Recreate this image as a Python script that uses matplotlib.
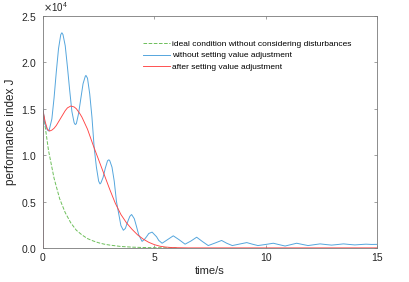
import numpy as np
import matplotlib.pyplot as plt
from matplotlib.ticker import ScalarFormatter

plt.rcParams['font.family'] = ['Liberation Sans', 'DejaVu Sans']

# ideal condition (green dashed), values in units of 1e4
t_ideal = [0, 0.25, 0.5, 0.75, 1.0, 1.25, 1.5, 1.75, 2.0, 2.25, 2.5, 2.75,
           3.0, 3.5, 4.0, 4.5, 5.0, 5.5, 6.0]
J_ideal = [1.48, 1.05, 0.75, 0.53, 0.38, 0.27, 0.19, 0.14, 0.10, 0.075, 0.055,
           0.04, 0.03, 0.015, 0.008, 0.004, 0.002, 0.001, 0.0]

# without setting value adjustment (blue)
t_without = [0, 0, 0.1, 0.2, 0.27, 0.4, 0.5, 0.6, 0.7, 0.8, 0.85, 0.9, 1.0, 1.1,
             1.2, 1.3, 1.4, 1.45, 1.5, 1.6, 1.7, 1.8, 1.9, 1.93, 2.0, 2.1, 2.2,
             2.3, 2.4, 2.5, 2.56, 2.6, 2.7, 2.8, 2.9, 2.96, 3.0, 3.1, 3.2, 3.3,
             3.4, 3.5, 3.61, 3.7, 3.8, 3.9, 3.98, 4.1, 4.2, 4.3, 4.45, 4.55,
             4.65, 4.75, 4.9, 5.1, 5.2, 5.35, 5.6, 5.85, 6.1, 6.38, 6.65, 6.9,
             7.15, 7.42, 7.7, 8.02, 8.25, 8.5, 8.8, 9.15, 9.4, 9.65, 10.0, 10.34,
             10.6, 10.87, 11.13, 11.39, 11.65, 11.9, 12.17, 12.44, 12.7, 12.96,
             13.22, 13.49, 13.75, 14.0, 14.25, 14.5, 14.75, 15.0]
J_without = [0, 1.50, 1.33, 1.27, 1.26, 1.39, 1.62, 1.90, 2.15, 2.30, 2.32, 2.30,
             2.18, 1.95, 1.70, 1.47, 1.35, 1.33, 1.34, 1.45, 1.61, 1.77, 1.85,
             1.86, 1.83, 1.66, 1.41, 1.08, 0.87, 0.72, 0.69, 0.70, 0.76, 0.86,
             0.94, 0.95, 0.94, 0.87, 0.72, 0.50, 0.37, 0.24, 0.19, 0.21, 0.28,
             0.34, 0.36, 0.315, 0.23, 0.14, 0.07, 0.09, 0.12, 0.155, 0.17, 0.12,
             0.08, 0.05, 0.09, 0.13, 0.09, 0.04, 0.075, 0.115, 0.07, 0.025, 0.05,
             0.08, 0.05, 0.025, 0.04, 0.057, 0.04, 0.025, 0.037, 0.05, 0.035,
             0.02, 0.035, 0.05, 0.037, 0.025, 0.034, 0.043, 0.036, 0.03, 0.036,
             0.043, 0.037, 0.032, 0.036, 0.04, 0.037, 0.038]

# after setting value adjustment (red)
t_after = [0, 0, 0.1, 0.2, 0.3, 0.4, 0.5, 0.6, 0.75, 0.9, 1.0, 1.1, 1.25, 1.4,
           1.5, 1.65, 1.75, 2.0, 2.25, 2.5, 2.75, 3.0, 3.25, 3.5, 3.75, 4.0,
           4.25, 4.5, 4.75, 5.0, 5.25, 5.5, 5.75, 6.0, 6.5, 15.0]
J_after = [0, 1.48, 1.36, 1.28, 1.26, 1.27, 1.29, 1.32, 1.38, 1.44, 1.48, 1.51,
           1.53, 1.52, 1.50, 1.45, 1.41, 1.28, 1.11, 0.95, 0.79, 0.63, 0.48,
           0.36, 0.27, 0.20, 0.14, 0.095, 0.06, 0.035, 0.018, 0.009, 0.004,
           0.002, 0.0, 0.0]

labels = ["ideal condition without considering disturbances",
          "without setting value adjustment",
          "after setting value adjustment"]

fig = plt.figure(figsize=(4.09, 2.82), dpi=100)
ax = fig.add_axes([0.105, 0.121, 0.817, 0.822])

ax.plot(t_ideal, np.array(J_ideal) * 1e4, '--', color='#6dbf5a', lw=0.7, label=labels[0])
ax.plot(t_without, np.array(J_without) * 1e4, '-', color='#55a6dd', lw=0.7, label=labels[1])
ax.plot(t_after, np.array(J_after) * 1e4, '-', color='#ff4545', lw=0.65, label=labels[2])

ax.set_xlim(0, 15)
ax.set_ylim(0, 2.5e4)
ax.set_xticks([0, 5, 10, 15])
ax.set_yticks([0, 0.5e4, 1e4, 1.5e4, 2e4, 2.5e4])

fmt = ScalarFormatter(useMathText=True)
fmt.set_powerlimits((0, 0))
ax.yaxis.set_major_formatter(fmt)
ax.yaxis.get_offset_text().set_fontsize(7)
ax.yaxis.get_offset_text().set_color('#262626')

for s in ax.spines.values():
    s.set_color('#7a7a7a')
    s.set_linewidth(0.6)
ax.tick_params(direction='in', length=2.5, width=0.5, colors='#7a7a7a',
               labelcolor='#262626', labelsize=7.5, top=True, right=True, pad=4)

ax.set_xlabel("time/s", fontsize=8, color='#262626', labelpad=2)
ax.set_ylabel("performance index J", fontsize=8.5, color='#262626', labelpad=3)

ax.legend(loc='upper left', bbox_to_anchor=(143 / 409, 1 - 40 / 282),
          bbox_transform=fig.transFigure, frameon=False, fontsize=6,
          handlelength=3.2, handletextpad=0.3, labelspacing=0.45,
          borderpad=0, borderaxespad=0)

fig.savefig("out.png", dpi=100)
